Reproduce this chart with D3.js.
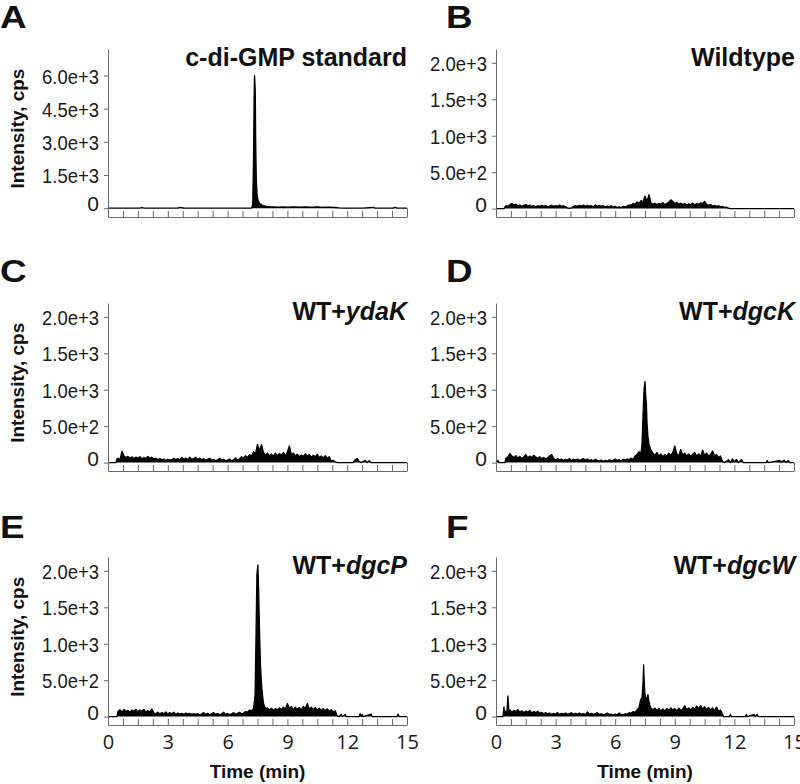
<!DOCTYPE html>
<html>
<head>
<meta charset="utf-8">
<script src="https://cdn.jsdelivr.net/npm/d3@7"></script>
<style>
  html, body { margin: 0; padding: 0; background: #fff; }
  svg { display: block; font-family: "Liberation Sans", Arial, Helvetica, sans-serif; }
</style>
</head>
<body>
<svg id="chart" width="800" height="784"></svg>
<script>
// ---------------- DATA ----------------
const panelLetters = ["A", "B", "C", "D", "E", "F"];
const titlePlain = ["c-di-GMP standard", "Wildtype", "WT+", "WT+", "WT+", "WT+"];
const titleItalic = ["", "", "ydaK", "dgcK", "dgcP", "dgcW"];

const yTicksStandard = [0, 1500, 3000, 4500, 6000];
const yTicksSample = [0, 500, 1000, 1500, 2000];
const yDomainStandard = [-400, 7200];
const yDomainSample = [-115, 2190];
const xDomain = [0, 15];
const xTickLabels = [0, 3, 6, 9, 12, 15];
const xMinorStep = 0.75;

// [time (min), intensity (cps)]
const traceA = [[0,0],[1.6,0],[1.7,30],[1.8,0],[3.5,0],[3.6,35],[3.7,20],[3.8,0],[7.2,0],[7.26,150],[7.3,2200],[7.33,5000],[7.35,6000],[7.37,5700],[7.39,5200],[7.41,3000],[7.44,1300],[7.48,600],[7.53,350],[7.6,220],[7.7,150],[7.8,110],[7.9,90],[8.0,70],[8.2,60],[8.5,50],[8.8,55],[9.0,45],[9.3,60],[9.6,50],[9.9,55],[10.2,45],[10.5,60],[10.8,40],[11.1,50],[11.4,30],[11.6,10],[12,5],[12.8,0],[13.3,40],[13.4,0],[14.3,0],[14.4,40],[14.5,0],[15,0]];

const traceB = [[0,0],[0.4,0],[0.5,40],[0.6,30],[0.7,55],[0.8,70],[0.9,50],[1.0,60],[1.1,35],[1.2,50],[1.3,30],[1.4,45],[1.5,55],[1.6,35],[1.7,50],[1.8,30],[1.9,40],[2.0,25],[2.1,40],[2.2,30],[2.3,45],[2.4,30],[2.5,40],[2.6,25],[2.7,35],[2.8,45],[2.9,30],[3.0,40],[3.1,35],[3.2,50],[3.3,30],[3.4,40],[3.5,25],[3.6,10],[3.7,5],[3.8,10],[3.9,30],[4.0,40],[4.1,30],[4.2,45],[4.3,35],[4.4,50],[4.5,30],[4.6,45],[4.7,35],[4.8,40],[4.9,25],[5.0,50],[5.1,30],[5.2,45],[5.3,30],[5.4,40],[5.5,20],[5.6,35],[5.7,25],[5.8,40],[5.9,20],[6.0,30],[6.1,15],[6.2,25],[6.3,15],[6.4,30],[6.5,20],[6.6,35],[6.7,50],[6.8,45],[6.9,70],[7.0,60],[7.1,90],[7.2,75],[7.3,110],[7.4,90],[7.5,170],[7.6,100],[7.7,190],[7.8,80],[7.9,60],[8.0,75],[8.1,55],[8.2,70],[8.3,60],[8.4,80],[8.5,55],[8.6,70],[8.7,90],[8.8,120],[8.9,100],[9.0,70],[9.1,85],[9.2,60],[9.3,75],[9.4,55],[9.5,70],[9.6,50],[9.7,65],[9.8,55],[9.9,75],[10.0,50],[10.1,70],[10.2,60],[10.3,80],[10.4,70],[10.5,100],[10.6,60],[10.7,45],[10.8,55],[10.9,35],[11.0,45],[11.1,30],[11.2,40],[11.3,25],[11.4,30],[11.5,15],[11.6,20],[11.7,5],[11.8,0],[15,0]];

const traceC = [[0,0],[0.4,0],[0.45,50],[0.5,60],[0.6,40],[0.7,155],[0.8,90],[0.9,70],[1.0,85],[1.1,60],[1.2,80],[1.3,55],[1.4,75],[1.5,60],[1.6,80],[1.7,50],[1.8,70],[1.9,55],[2.0,85],[2.1,60],[2.2,75],[2.3,50],[2.4,60],[2.5,40],[2.6,55],[2.7,35],[2.8,50],[2.9,30],[3.0,45],[3.1,35],[3.2,40],[3.3,60],[3.4,40],[3.5,55],[3.6,35],[3.7,70],[3.8,45],[3.9,60],[4.0,40],[4.1,75],[4.2,45],[4.3,55],[4.4,75],[4.5,40],[4.6,65],[4.7,40],[4.8,55],[4.9,30],[5.0,45],[5.1,60],[5.2,30],[5.3,45],[5.4,25],[5.5,40],[5.6,60],[5.7,30],[5.8,45],[5.9,25],[6.0,35],[6.1,50],[6.2,25],[6.3,40],[6.4,65],[6.5,35],[6.6,50],[6.7,80],[6.8,60],[6.9,95],[7.0,70],[7.1,110],[7.2,90],[7.3,150],[7.4,120],[7.5,250],[7.6,160],[7.7,245],[7.8,140],[7.9,100],[8.0,130],[8.1,90],[8.2,120],[8.3,85],[8.4,130],[8.5,95],[8.6,125],[8.7,100],[8.8,140],[8.9,90],[9.0,150],[9.1,230],[9.2,110],[9.3,130],[9.4,90],[9.5,115],[9.6,80],[9.7,105],[9.8,85],[9.9,120],[10.0,90],[10.1,110],[10.2,75],[10.3,100],[10.4,80],[10.5,115],[10.6,70],[10.7,90],[10.8,65],[10.9,95],[11.0,60],[11.1,80],[11.2,20],[11.3,30],[11.4,10],[11.5,0],[12.3,0],[12.4,40],[12.5,55],[12.6,20],[12.7,0],[12.9,30],[13.0,0],[13.1,25],[13.2,0],[15,0]];

const traceD = [[0,0],[0.1,30],[0.15,0],[0.45,0],[0.5,60],[0.6,80],[0.7,125],[0.8,90],[0.9,70],[1.0,95],[1.1,60],[1.2,85],[1.3,55],[1.4,80],[1.5,110],[1.6,65],[1.7,90],[1.8,70],[1.9,100],[2.0,75],[2.1,60],[2.2,80],[2.3,55],[2.4,70],[2.5,50],[2.6,65],[2.7,90],[2.8,110],[2.9,60],[3.0,40],[3.1,55],[3.2,35],[3.3,50],[3.4,30],[3.5,45],[3.6,35],[3.7,55],[3.8,30],[3.9,45],[4.0,35],[4.1,50],[4.2,30],[4.3,45],[4.4,55],[4.5,35],[4.6,50],[4.7,30],[4.8,40],[4.9,25],[5.0,45],[5.1,30],[5.2,20],[5.3,35],[5.4,15],[5.5,30],[5.6,20],[5.7,40],[5.8,25],[5.9,35],[6.0,50],[6.1,30],[6.2,40],[6.3,25],[6.4,45],[6.5,35],[6.6,50],[6.7,40],[6.8,60],[6.9,45],[7.0,90],[7.1,110],[7.2,150],[7.3,130],[7.35,250],[7.4,650],[7.45,1000],[7.5,1110],[7.53,950],[7.57,800],[7.6,550],[7.65,350],[7.7,250],[7.8,170],[7.9,130],[8.0,100],[8.1,140],[8.2,90],[8.3,120],[8.4,80],[8.5,110],[8.6,90],[8.7,130],[8.8,100],[8.9,140],[9.0,230],[9.1,120],[9.2,90],[9.3,180],[9.4,100],[9.5,130],[9.6,90],[9.7,120],[9.8,85],[9.9,115],[10.0,140],[10.1,90],[10.2,120],[10.3,85],[10.4,170],[10.5,100],[10.6,130],[10.7,90],[10.8,110],[10.9,160],[11.0,90],[11.1,110],[11.2,70],[11.3,90],[11.4,20],[11.5,0],[11.7,40],[11.8,0],[11.9,50],[12.0,10],[12.1,45],[12.2,0],[12.35,40],[12.45,0],[13.6,0],[13.65,30],[13.7,0],[14.3,30],[14.35,0],[14.5,35],[14.6,0],[14.7,30],[14.8,0],[15,0]];

const traceE = [[0,0],[0.45,0],[0.5,70],[0.6,95],[0.7,60],[0.8,100],[0.9,70],[1.0,85],[1.1,60],[1.2,90],[1.3,75],[1.4,100],[1.5,65],[1.6,90],[1.7,70],[1.8,100],[1.9,60],[2.0,85],[2.1,65],[2.2,105],[2.3,50],[2.4,40],[2.5,60],[2.6,35],[2.7,55],[2.8,40],[2.9,65],[3.0,35],[3.1,55],[3.2,40],[3.3,60],[3.4,30],[3.5,50],[3.6,35],[3.7,45],[3.8,30],[3.9,50],[4.0,35],[4.1,45],[4.2,30],[4.3,40],[4.4,30],[4.5,40],[4.6,25],[4.7,35],[4.8,55],[4.9,30],[5.0,45],[5.1,25],[5.2,40],[5.3,55],[5.4,30],[5.5,45],[5.6,25],[5.7,40],[5.8,60],[5.9,30],[6.0,45],[6.1,25],[6.2,40],[6.3,55],[6.4,30],[6.5,45],[6.6,60],[6.7,35],[6.8,50],[6.9,70],[7.0,60],[7.1,90],[7.2,80],[7.3,110],[7.38,300],[7.43,1200],[7.47,1950],[7.52,2080],[7.56,1700],[7.6,1200],[7.65,700],[7.7,450],[7.75,300],[7.8,180],[7.9,110],[8.0,120],[8.1,90],[8.2,115],[8.3,85],[8.4,110],[8.5,90],[8.6,120],[8.7,95],[8.8,130],[8.9,100],[9.0,180],[9.1,110],[9.2,140],[9.3,95],[9.4,130],[9.5,100],[9.6,125],[9.7,90],[9.8,140],[9.9,110],[10.0,180],[10.1,100],[10.2,130],[10.3,95],[10.4,125],[10.5,90],[10.6,115],[10.7,85],[10.8,110],[10.9,80],[11.0,105],[11.1,75],[11.2,95],[11.3,60],[11.4,80],[11.5,10],[11.6,0],[11.7,35],[11.75,0],[11.9,30],[11.95,0],[12.6,0],[12.65,40],[12.7,0],[12.75,30],[12.8,0],[13.2,35],[13.25,0],[14.5,0],[14.55,35],[14.6,0],[15,0]];

const traceF = [[0,0],[0.35,0],[0.4,130],[0.45,20],[0.5,80],[0.55,60],[0.6,285],[0.65,70],[0.7,90],[0.8,60],[0.9,85],[1.0,70],[1.1,95],[1.2,60],[1.3,80],[1.4,55],[1.5,75],[1.6,60],[1.7,85],[1.8,50],[1.9,70],[2.0,55],[2.1,75],[2.2,45],[2.3,60],[2.4,40],[2.5,55],[2.6,35],[2.7,50],[2.8,30],[2.9,45],[3.0,35],[3.1,55],[3.2,30],[3.3,45],[3.4,35],[3.5,50],[3.6,30],[3.7,40],[3.8,55],[3.9,30],[4.0,45],[4.1,35],[4.2,50],[4.3,30],[4.4,40],[4.5,30],[4.6,65],[4.7,35],[4.8,45],[4.9,30],[5.0,40],[5.1,55],[5.2,30],[5.3,40],[5.4,25],[5.5,35],[5.6,50],[5.7,30],[5.8,35],[5.9,20],[6.0,35],[6.1,25],[6.2,50],[6.3,30],[6.4,25],[6.5,40],[6.6,30],[6.7,55],[6.8,45],[6.9,70],[7.0,60],[7.1,90],[7.2,130],[7.28,230],[7.35,260],[7.4,450],[7.43,710],[7.46,480],[7.5,300],[7.55,240],[7.6,260],[7.65,300],[7.7,200],[7.75,150],[7.8,120],[7.9,90],[8.0,115],[8.1,85],[8.2,110],[8.3,80],[8.4,105],[8.5,75],[8.6,110],[8.7,85],[8.8,120],[8.9,90],[9.0,110],[9.1,80],[9.2,115],[9.3,85],[9.4,105],[9.5,150],[9.6,95],[9.7,120],[9.8,90],[9.9,125],[10.0,100],[10.1,145],[10.2,110],[10.3,150],[10.4,105],[10.5,135],[10.6,95],[10.7,125],[10.8,90],[10.9,120],[11.0,80],[11.1,130],[11.2,70],[11.3,90],[11.4,40],[11.45,0],[11.75,0],[11.8,30],[11.85,0],[12.55,0],[12.6,30],[12.65,0],[13.0,30],[13.05,0],[13.15,30],[13.2,0],[15,0]];

const traces = [traceA, traceB, traceC, traceD, traceE, traceF];

// ---------------- LAYOUT ----------------
const colX = [[108, 407], [496, 794]];
const rowY = [[49, 217], [303, 471], [557, 725]];
const letterBaseline = [28, 282, 538];
const FONT = '"Liberation Sans", Arial, Helvetica, sans-serif';
const AXIS_COLOR = "#6a6a6a";

const svg = d3.select("#chart");
const fmt = d => d === 0 ? "0" : d3.format(".1e")(d);

panelLetters.forEach((letter, i) => {
  const col = i % 2, row = Math.floor(i / 2);
  const [x0, x1] = colX[col];
  const [top, bottom] = rowY[row];
  const isStd = i === 0;
  const x = d3.scaleLinear().domain(xDomain).range([x0, x1]);
  const y = d3.scaleLinear().domain(isStd ? yDomainStandard : yDomainSample).range([bottom, top]);
  const g = svg.append("g");

  // panel letter
  g.append("text")
    .attr("transform", `translate(${col === 0 ? 0 : 446},${letterBaseline[row]}) scale(1.15,1)`)
    .style("font-size", "32px").style("font-weight", "bold")
    .attr("fill", "#111")
    .text(letter);

  // title
  const t = g.append("text")
    .attr("x", x1 + (col === 0 ? 0 : 1))
    .attr("y", top + 17)
    .attr("text-anchor", "end")
    .style("font-size", "25px").style("font-weight", "bold")
    .attr("fill", "#111");
  t.append("tspan").text(titlePlain[i]);
  if (titleItalic[i]) t.append("tspan").style("font-style", "italic").text(titleItalic[i]);

  // trace (area + line)
  const data = traces[i];
  g.append("path").datum(data)
    .attr("fill", "#000")
    .attr("d", d3.area().x(d => x(d[0])).y0(y(0)).y1(d => y(d[1])));
  g.append("path").datum(data)
    .attr("fill", "none").attr("stroke", "#000").attr("stroke-width", 1.3)
    .attr("stroke-linejoin", "round")
    .attr("d", d3.line().x(d => x(d[0])).y(d => y(d[1])));

  // y axis
  const ya = g.append("g").attr("transform", `translate(${x0},0)`)
    .call(d3.axisLeft(y).tickValues(isStd ? yTicksStandard : yTicksSample)
      .tickFormat(fmt).tickSizeInner(4).tickSizeOuter(0).tickPadding(5));
  ya.select(".domain").attr("stroke", AXIS_COLOR);
  ya.selectAll(".tick line").attr("stroke", AXIS_COLOR);
  ya.selectAll(".tick text")
    .style("font-family", FONT).style("font-size", "21px").attr("fill", "#1a1a1a")
    .attr("dy", d => d === 0 ? "0.12em" : "0.36em")
    .each(function(d) {
      if (d !== 0) d3.select(this).attr("textLength", 57).attr("lengthAdjust", "spacingAndGlyphs");
    });

  // x axis (strip below zero line with inward ticks)
  const minor = d3.range(xDomain[0], xDomain[1] + 0.001, xMinorStep);
  const xa = g.append("g").attr("transform", `translate(0,${bottom})`)
    .call(d3.axisBottom(x).tickValues(minor)
      .tickFormat(d => (row === 2 && xTickLabels.some(v => Math.abs(v - d) < 1e-6)) ? d3.format("d")(d) : "")
      .tickSizeInner(-6).tickSizeOuter(0).tickPadding(10));
  xa.select(".domain").attr("stroke", AXIS_COLOR);
  xa.selectAll(".tick line").attr("stroke", AXIS_COLOR)
    .attr("y2", d => d === xDomain[1] ? -(bottom - y(0)) : -6);
  xa.selectAll(".tick text")
    .style("font-family", '"Open Sans", "Liberation Sans", sans-serif')
    .style("font-size", "20px").attr("fill", "#1a1a1a");

  // axis titles
  if (col === 0) {
    g.append("text")
      .attr("transform", `translate(24,${(top + y(0)) / 2}) rotate(-90)`)
      .attr("text-anchor", "middle")
      .style("font-size", "19px").style("font-weight", "bold").attr("fill", "#111")
      .text("Intensity, cps");
  }
  if (row === 2) {
    g.append("text")
      .attr("x", (x0 + x1) / 2).attr("y", 778)
      .attr("text-anchor", "middle")
      .style("font-size", "19px").style("font-weight", "bold").attr("fill", "#111")
      .text("Time (min)");
  }
});
</script>
</body>
</html>
